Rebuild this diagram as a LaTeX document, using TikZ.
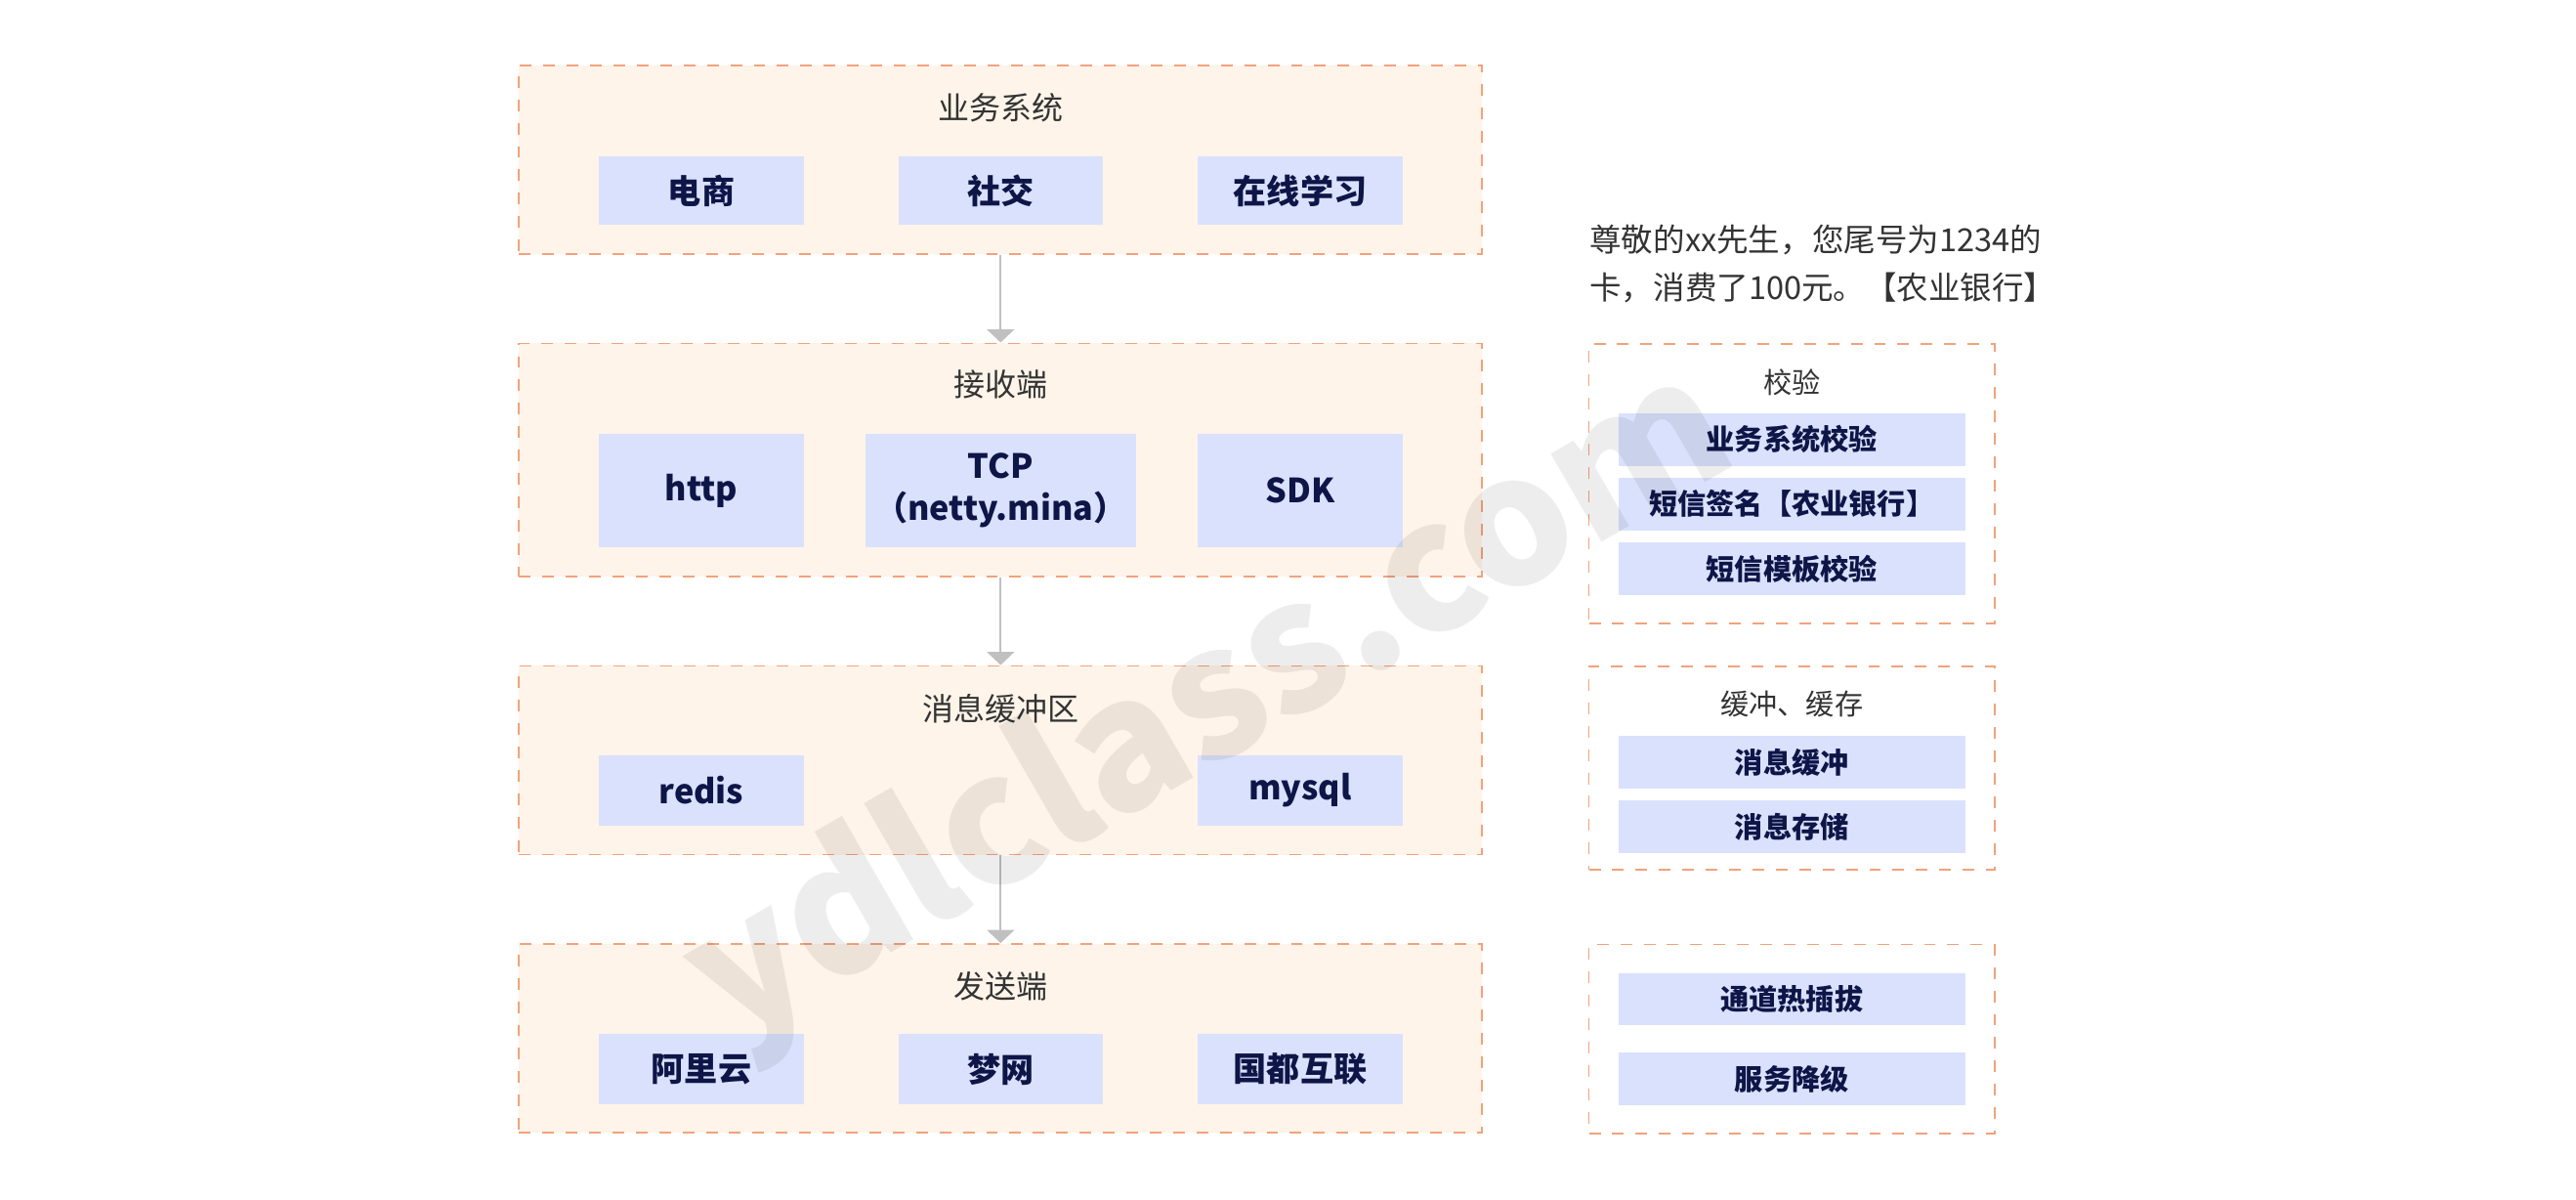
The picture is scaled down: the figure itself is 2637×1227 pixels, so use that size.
\documentclass[tikz,border=0pt]{standalone}
\usepackage{fontspec}
\setmainfont{Noto Sans CJK SC}
\usetikzlibrary{arrows.meta}
\definecolor{layerfill}{HTML}{FEF4E9}
\definecolor{layerline}{HTML}{F2A27C}
\definecolor{itemfill}{HTML}{DAE1FC}
\definecolor{itemtext}{HTML}{0E1547}
\definecolor{titletext}{HTML}{333333}
\definecolor{flowgray}{HTML}{C0C0C0}

\begin{document}
\begin{tikzpicture}[x=0.01cm,y=-0.01cm,
   layer/.style={draw=layerline,fill=layerfill,line width=0.5pt,dash pattern=on 3.4pt off 3.4pt,minimum width=9.855cm,inner sep=0pt},
   side/.style={draw=layerline,line width=0.5pt,dash pattern=on 3.4pt off 3.4pt,minimum width=4.153cm,inner sep=0pt},
   item/.style={fill=itemfill,text=itemtext,font=\fontsize{9.7}{12.2}\selectfont\bfseries,minimum width=2.09cm,minimum height=0.7cm,inner sep=0pt,align=center},
   check/.style={fill=itemfill,text=itemtext,font=\fontsize{8.3}{10}\selectfont\bfseries,minimum width=3.547cm,minimum height=0.535cm,inner sep=0pt},
   title/.style={text=titletext,font=\fontsize{9.1}{11}\selectfont,inner sep=0pt},
   flow/.style={draw=flowgray,line width=0.6pt,-{Triangle[width=0.28cm,length=0.135cm]}}]
   \useasboundingbox (0,0) rectangle (2637,1227);
   % left column
   \node[layer,minimum height=1.93cm] (biz) at (1024.3,163.5) {};
   \node[layer,minimum height=2.385cm] (recv) at (1024.3,470.7) {};
   \node[layer,minimum height=1.93cm] (buf) at (1024.3,778) {};
   \node[layer,minimum height=1.93cm] (send) at (1024.3,1062.5) {};
   \node[title] (biztitle) at (1024.3,110.5) {业务系统};
   \node[title] (recvtitle) at (1024.3,393) {接收端};
   \node[title] (buftitle) at (1024.3,725) {消息缓冲区};
   \node[title] (sendtitle) at (1024.3,1009) {发送端};
   \node[item] (shop) at (718,195) {电商};
   \node[item] (social) at (1024.3,195) {社交};
   \node[item] (learn) at (1331,195) {在线学习};
   \node[item,minimum height=1.16cm] (http) at (718,502) {http};
   \node[item,minimum height=1.16cm,minimum width=2.765cm] (tcp) at (1024.3,502) {TCP\\（netty.mina）};
   \node[item,minimum height=1.16cm] (sdk) at (1331,502) {SDK};
   \node[item,minimum height=0.71cm] (redis) at (718,809) {redis};
   \node[item,minimum height=0.71cm] (mysql) at (1331,809) {mysql};
   \node[item,minimum height=0.72cm] (ali) at (718,1094) {阿里云};
   \node[item,minimum height=0.72cm] (dream) at (1024.3,1094) {梦网};
   \node[item,minimum height=0.72cm] (guodu) at (1331,1094) {国都互联};
   \draw[flow] (biz) -- (recv);
   \draw[flow] (recv) -- (buf);
   \draw[flow] (buf) -- (send);
   % right column
   \node[anchor=west,align=left,inner sep=0pt,text=titletext,font=\fontsize{9.25}{14.2}\selectfont] (sms) at (1626.7,270) {尊敬的xx先生，您尾号为1234的\\卡，消费了100元。【农业银行】};
   \node[side,minimum height=2.857cm] (verify) at (1834.3,494.8) {};
   \node[side,minimum height=2.08cm] (cache) at (1834.3,786) {};
   \node[side,minimum height=1.933cm] (channel) at (1834.3,1063.3) {};
   \node[title,font=\fontsize{8.3}{10}\selectfont] (verifytitle) at (1834.3,391.7) {校验};
   \node[check] (v1) at (1834.3,449.8) {业务系统校验};
   \node[check] (v2) at (1834.3,515.8) {短信签名【农业银行】};
   \node[check] (v3) at (1834.3,581.8) {短信模板校验};
   \node[title,font=\fontsize{8.3}{10}\selectfont] (cachetitle) at (1834.3,720.7) {缓冲、缓存};
   \node[check] (c1) at (1834.3,780) {消息缓冲};
   \node[check] (c2) at (1834.3,846) {消息存储};
   \node[check] (ch1) at (1834.3,1022.5) {通道热插拔};
   \node[check] (ch2) at (1834.3,1104) {服务降级};
   % watermark
   \node[rotate=30,text=black,opacity=0.07,font=\fontsize{52}{60}\selectfont\bfseries] (mark) at (1240,725) {ydlclass.com};
\end{tikzpicture}
\end{document}
